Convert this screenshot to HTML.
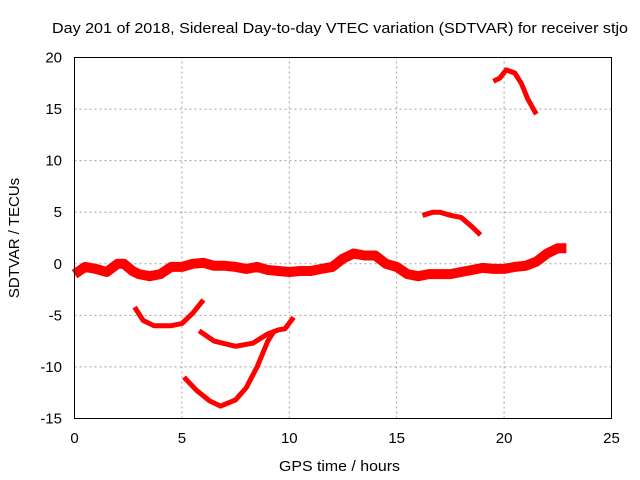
<!DOCTYPE html>
<html><head><meta charset="utf-8"><style>
body{margin:0;background:#fff;}
svg{display:block;font-family:"Liberation Sans",sans-serif;}
</style></head><body>
<svg id="chart" width="640" height="480">
<text x="52" y="33" font-size="15" textLength="576" lengthAdjust="spacingAndGlyphs">Day 201 of 2018, Sidereal Day-to-day VTEC variation (SDTVAR) for receiver stjo</text>
<text x="279" y="471" font-size="15" textLength="121" lengthAdjust="spacingAndGlyphs">GPS time / hours</text>
<text transform="translate(19,238) rotate(-90)" font-size="15" text-anchor="middle">SDTVAR / TECUs</text>
<g id="grid"></g><g id="ticks"></g><g id="series"></g>
<rect x="74.5" y="57.5" width="537" height="361" fill="none" stroke="#000" stroke-width="1"/>
</svg>
<script>
const xTicks=[0,5,10,15,20,25];
const yTicks=[20,15,10,5,0,-5,-10,-15];
const mainBand=[[0,-1],[0.5,-0.3],[1,-0.5],[1.5,-0.8],[2,0],[2.3,0],[2.7,-0.7],[3,-1],[3.5,-1.2],[4,-1],[4.5,-0.3],[5,-0.3],[5.5,0],[6,0.1],[6.5,-0.2],[7,-0.2],[7.5,-0.3],[8,-0.5],[8.5,-0.3],[9,-0.6],[9.5,-0.7],[10,-0.8],[10.5,-0.7],[11,-0.7],[11.5,-0.5],[12,-0.3],[12.5,0.5],[13,1],[13.5,0.8],[14,0.8],[14.5,0],[15,-0.3],[15.5,-1],[16,-1.2],[16.5,-1],[17,-1],[17.5,-1],[18,-0.8],[18.5,-0.6],[19,-0.4],[19.5,-0.5],[20,-0.5],[20.5,-0.3],[21,-0.2],[21.5,0.2],[22,1],[22.5,1.5],[22.9,1.5]];
const arc1=[[2.8,-4.2],[3.2,-5.5],[3.7,-6],[4.5,-6],[5,-5.8],[5.5,-4.8],[6,-3.5]];
const arc2=[[5.8,-6.5],[6.5,-7.5],[7.5,-8],[8.3,-7.7],[9,-6.8],[9.5,-6.4],[9.8,-6.3],[10.2,-5.2]];
const arc3=[[5.1,-11],[5.7,-12.3],[6.3,-13.3],[6.8,-13.8],[7.5,-13.2],[8,-12],[8.5,-10],[9,-7.5],[9.3,-6.5]];
const arc4=[[16.2,4.7],[16.7,5],[17,5],[17.5,4.7],[18,4.5],[18.5,3.6],[18.9,2.8]];
const arc5=[[19.5,17.7],[19.8,18],[20.1,18.8],[20.5,18.5],[20.8,17.5],[21.1,16],[21.5,14.5]];
const NS='http://www.w3.org/2000/svg';
const X0=74.5,X1=611.5,Y0=418.5,Y1=57.5;
const sx=v=>X0+(v-0)/25*(X1-X0);
const sy=v=>Y0-(v+15)/35*(Y0-Y1);
const grid=document.getElementById('grid'),ticks=document.getElementById('ticks'),ser=document.getElementById('series');
function mk(t,a,p){const e=document.createElementNS(NS,t);for(const k in a)e.setAttribute(k,a[k]);p.appendChild(e);return e;}
xTicks.forEach(v=>{const x=sx(v);
 if(v>0&&v<25){const g=mk('line',{x1:x,x2:x,y1:Y0,y2:Y1,stroke:'#a0a0a0','stroke-dasharray':'2,3'},grid);
 
 }
 const t=mk('text',{x:x,y:443,'font-size':15,'text-anchor':'middle'},ticks);t.textContent=v;
 
 });
yTicks.forEach(v=>{const y=sy(v);
 if(v>-15&&v<20){const g=mk('line',{x1:X0,x2:X1,y1:y,y2:y,stroke:'#a0a0a0','stroke-dasharray':'2,3'},grid);
 
 }
 const t=mk('text',{x:62,y:y+5,'font-size':15,'text-anchor':'end'},ticks);t.textContent=v;
 
 });
function draw(arr,w,name){const d=arr.map((p,i)=>(i?'L':'M')+sx(p[0]).toFixed(1)+','+sy(p[1]).toFixed(1)).join('');
 const p=mk('path',{d:d,fill:'none',stroke:'#ff0000','stroke-width':w,'stroke-linejoin':'round'},ser);
 
 }
draw(mainBand,10,'series-main-band');
draw(arc1,5,'series-arc-1');
draw(arc2,5,'series-arc-2');
draw(arc3,5,'series-arc-3');
draw(arc4,5,'series-arc-4');
draw(arc5,5,'series-arc-5');
</script>
</body></html>
